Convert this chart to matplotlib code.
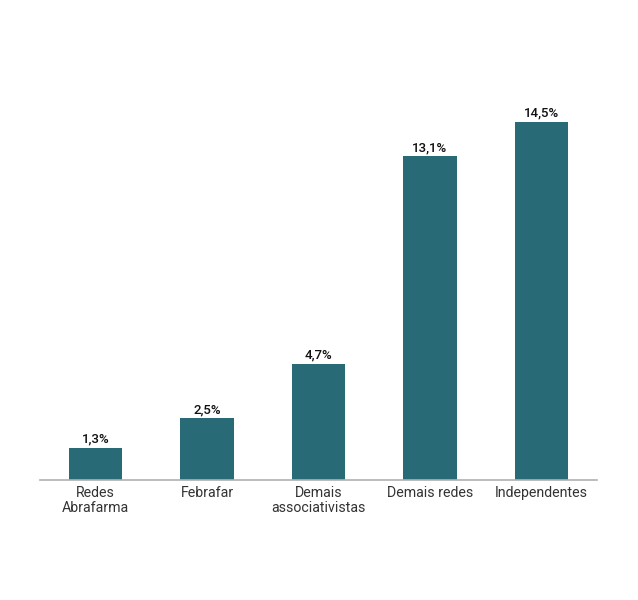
import matplotlib.pyplot as plt

# Data
categories = ["Redes\nAbrafarma", "Febrafar", "Demais\nassociativistas", "Demais redes", "Independentes"]
values = [1.3, 2.5, 4.7, 13.1, 14.5]
value_labels = ["1,3%", "2,5%", "4,7%", "13,1%", "14,5%"]

plt.rcParams["font.family"] = ["Roboto", "DejaVu Sans"]

fig = plt.figure(figsize=(6.38, 6.0), dpi=100)
ax = fig.add_axes([40 / 638, 0.2, 557 / 638, 0.7])

x = range(len(categories))
bars = ax.bar(x, values, width=0.48, color="#296a77")

for bar, lab in zip(bars, value_labels):
    ax.text(bar.get_x() + bar.get_width() / 2, bar.get_height() + 0.08, lab,
            ha="center", va="bottom", fontsize=9.5, fontweight="medium", color="#111111")

ax.set_xlim(-0.5, 4.5)
ax.set_ylim(0, 17)
ax.set_xticks(list(x))
ax.set_xticklabels(categories, fontsize=10.2, color="#333333", linespacing=1.1)
ax.tick_params(axis="x", length=0, pad=4)
ax.set_yticks([])
for side in ["top", "right", "left"]:
    ax.spines[side].set_visible(False)
ax.spines["bottom"].set_color("#b0b0b0")
ax.spines["bottom"].set_linewidth(1.2)

fig.savefig("out.png", dpi=100, facecolor="white")
